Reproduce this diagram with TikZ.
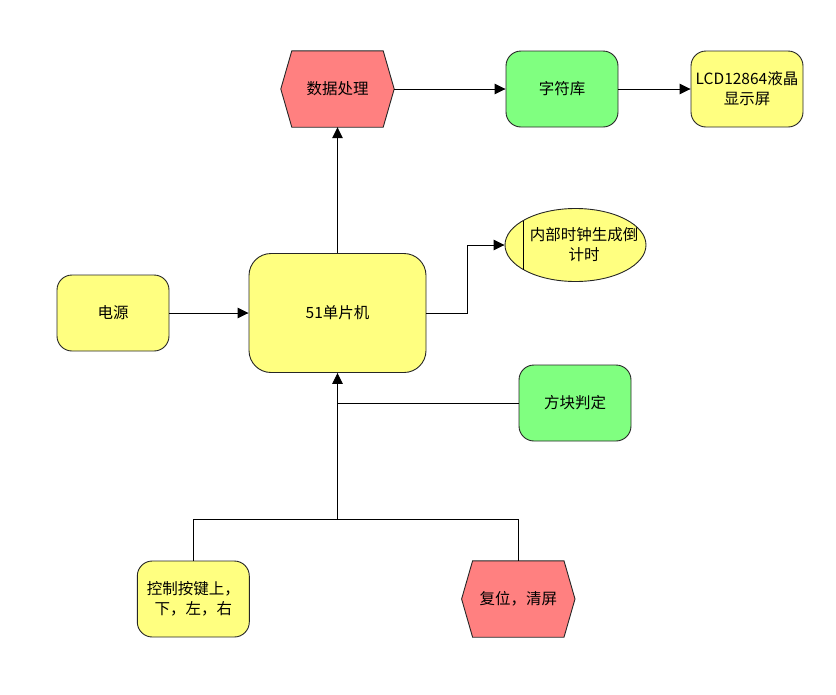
\documentclass[tikz,border=0pt]{standalone}
\usepackage{fontspec}
\setmainfont{Noto Sans CJK SC}
\usetikzlibrary{arrows.meta,shapes.geometric,backgrounds}
\definecolor{yel}{HTML}{FFFF80}
\definecolor{grn}{HTML}{80FF80}
\definecolor{rd}{HTML}{FF8080}
\begin{document}
\begin{tikzpicture}[x=1pt,y=-1pt,
  font=\fontsize{15.5}{20}\selectfont,
  box/.style={draw=black!85, line width=0.9pt, rounded corners=15pt, minimum width=112pt, minimum height=76pt, align=center, inner sep=0pt},
  hexnode/.style={draw=none, minimum width=113pt, minimum height=76pt, align=center, inner sep=0pt},
  hexfill/.style={draw=black!85, line width=0.9pt, fill=rd},
  arr/.style={line width=0.9pt, -{Triangle[length=11pt,width=10.5pt]}},
  ln/.style={line width=0.9pt}]
\useasboundingbox (0,0) rectangle (836,694);

\node[hexnode] (dp) at (337.5,89) {数据处理};
\node[box, fill=grn] (zf) at (562,89) {字符库};
\node[box, fill=yel] (lcd) at (747,89) {LCD12864液晶\\显示屏};
\node[box, fill=yel, minimum width=177pt, minimum height=119pt, rounded corners=22pt] (mcu) at (337.5,313) {51单片机};
\node[box, fill=yel] (dy) at (113,313) {电源};
\node[ellipse, draw=black!85, line width=0.9pt, fill=yel, minimum width=141pt, minimum height=73pt, inner sep=0pt] (ell) at (575.5,245) {};
\node[align=center, inner sep=0pt] (ellt) at (584,245) {内部时钟生成倒\\计时};
\coordinate (lt) at (523.5,220.5);
\coordinate (lb) at (523.5,269.5);
\draw[ln] (lt) -- (lb);
\node[box, fill=grn] (fk) at (575,403) {方块判定};
\node[box, fill=yel] (kz) at (193.3,599) {控制按键上，\\下，左，右};
\node[hexnode] (fw) at (518.3,599) {复位，清屏};

\begin{scope}[on background layer]
\path[hexfill] (dp.west) -- ([xshift=11pt]dp.north west) -- ([xshift=-11pt]dp.north east) -- (dp.east) -- ([xshift=-11pt]dp.south east) -- ([xshift=11pt]dp.south west) -- cycle;
\path[hexfill] (fw.west) -- ([xshift=11pt]fw.north west) -- ([xshift=-11pt]fw.north east) -- (fw.east) -- ([xshift=-11pt]fw.south east) -- ([xshift=11pt]fw.south west) -- cycle;
\end{scope}

\coordinate (j) at (337.5,519);
\draw[arr] (mcu.north) -- (dp.south);
\draw[arr] (dp.east) -- (zf.west);
\draw[arr] (zf.east) -- (lcd.west);
\draw[arr] (dy.east) -- (mcu.west);
\draw[arr] (mcu.east) -- ++(41,0) |- (ell.west);
\draw[ln] (fk.west) -- (mcu.south |- fk.west);
\draw[arr] (j) -- (mcu.south);
\draw[ln] (kz.north) -- (kz.north |- j) -- (fw.north |- j) -- (fw.north);
\end{tikzpicture}
\end{document}
